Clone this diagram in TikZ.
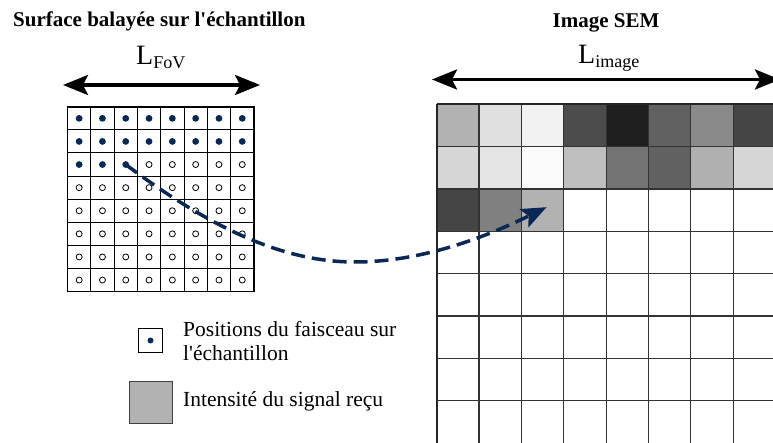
\documentclass[tikz,border=0pt]{standalone}
\usepackage{fontspec}
\setmainfont{Liberation Serif}
\usetikzlibrary{arrows.meta}
\definecolor{navy}{RGB}{10,40,85}
\tikzset{
  lcell/.style={draw=black, line width=1pt, minimum width=23.3pt, minimum height=23.1pt, inner sep=0pt, outer sep=0pt},
  rcell/.style={draw=black!80, line width=1.2pt, minimum size=42.35pt, inner sep=0pt, outer sep=0pt},
  fulldot/.style={fill=navy},
  emptydot/.style={draw=black, line width=0.8pt},
  dimarrow/.style={line width=3.3pt, {Stealth[length=25pt,width=20pt,inset=5pt]}-{Stealth[length=25pt,width=20pt,inset=5pt]}},
  title/.style={font=\bfseries\fontsize{21}{25}\selectfont, inner sep=0pt},
  legtext/.style={font=\fontsize{21.5}{25}\selectfont, inner sep=0pt, anchor=base west},
  beam/.style={navy, line width=3.5pt, dash pattern=on 14pt off 7pt, -{Stealth[length=25pt,width=20pt,inset=5pt]}}
}
\newcommand{\Llabel}[1]{\fontsize{28}{30}\selectfont L\raisebox{-4pt}{\fontsize{18}{20}\selectfont #1}}
\begin{document}
\begin{tikzpicture}[x=1pt,y=-1pt]
\useasboundingbox (0,0) rectangle (773,443);
\begin{scope}
\clip (0,0) rectangle (773,443);
% titles
\node[title, anchor=base west] (t1) at (13,27) {Surface balayée sur l\textquotesingle échantillon};
\node[title, anchor=base] (t2) at (606,28) {Image SEM};
% dimension labels
\node[anchor=base west, inner sep=0pt] (lfov) at (136,65) {\Llabel{FoV}};
\node[anchor=base west, inner sep=0pt] (limg) at (578,63.5) {\Llabel{image}};
% dimension arrows
\coordinate (a1) at (63,85);
\coordinate (a2) at (260,85);
\draw[dimarrow] (a1) -- (a2);
\coordinate (b1) at (432,79.5);
\coordinate (b2) at (780,79.5);
\draw[dimarrow] (b1) -- (b2);
% left grid
\foreach \r in {1,...,8}{
  \foreach \c in {1,...,8}{
    \node[lcell] (L-\r-\c) at ({67.5+23.3*(\c-0.5)},{106.8+23.1*(\r-0.5)}) {};
    \pgfmathtruncatemacro{\k}{(\r-1)*8+\c}
    \ifnum\k<20
      \fill[fulldot] (L-\r-\c.center) circle (3.4pt);
    \else
      \draw[emptydot] (L-\r-\c.center) circle (3pt);
    \fi
  }
}
\draw[line width=1.8pt] (L-1-1.north west) rectangle (L-8-8.south east);
% right grid
\foreach \r/\vals in {1/{70,88,95,30,12,38,54,27},
                      2/{84,90,98,75,45,38,69,84},
                      3/{27,50,70,100,100,100,100,100},
                      4/{100,100,100,100,100,100,100,100},
                      5/{100,100,100,100,100,100,100,100},
                      6/{100,100,100,100,100,100,100,100},
                      7/{100,100,100,100,100,100,100,100},
                      8/{100,100,100,100,100,100,100,100}}{
  \foreach \v [count=\c] in \vals{
    \node[rcell, fill=white!\v!black] (R-\r-\c) at ({436.7+42.35*(\c-0.5)},{104.3+42.35*(\r-0.5)}) {};
  }
}
\draw[line width=1.8pt, black!85] (R-1-1.north west) -- (R-8-1.south west);
\draw[line width=1.8pt, black!85] (R-1-1.north west) -- (R-1-8.north east);
% beam trajectory
\coordinate (tip) at ([xshift=4pt,yshift=3pt]R-3-3.center);
\draw[beam] (L-3-3.center) .. controls (220,235) and (290,262) .. (355,262)
            .. controls (430,262) and (500,230) .. (tip);
% legend
\node[lcell, line width=1pt] (lg1) at (150.5,340.5) {};
\fill[fulldot] (lg1.center) circle (3pt);
\node[legtext] (lt1) at (183,336.7) {Positions du faisceau sur};
\node[legtext] (lt2) at (183,360) {l\textquotesingle échantillon};
\node[draw=black!75, line width=1pt, fill=white!70!black, minimum width=43pt, minimum height=42pt, inner sep=0pt] (lg2) at (150.5,402) {};
\node[legtext] (lt3) at (183,406.7) {Intensité du signal reçu};
\end{scope}
\end{tikzpicture}
\end{document}
